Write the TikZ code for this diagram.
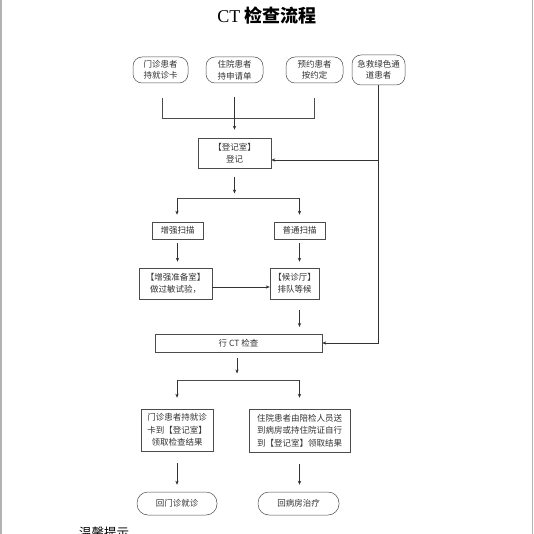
\documentclass[tikz,border=0pt]{standalone}
\usepackage{fontspec}
\setmainfont{Liberation Serif}
\newfontfamily\cjk{Noto Sans CJK SC}
\usetikzlibrary{arrows.meta}
\begin{document}
\begin{tikzpicture}[x=1pt,y=-1pt,
  box/.style={draw=black!70, line width=0.5pt, inner sep=0pt, align=center,
    font=\cjk\fontsize{8.5}{11.5}\selectfont, text=black!80},
  rbox/.style={box, rounded corners=9pt},
  tbox/.style={box, font=\cjk\fontsize{8.5}{12.5}\selectfont},
  arr/.style={-{Stealth[length=4pt,width=3.2pt]}, line width=0.5pt, draw=black!80},
  ln/.style={line width=0.5pt, draw=black!70}]
\useasboundingbox (0,0) rectangle (534,534);
\fill[white] (0,0) rectangle (534,534);
\draw[black!30, line width=1.2pt] (1,0) -- (1,534);
\draw[black!30, line width=1.2pt] (532.5,0) -- (532.5,534);

% title
\node (title) at (267,16) {\fontsize{18}{18}\selectfont CT {\cjk\bfseries 检查流程}};

% top row
\node[rbox, minimum width=55pt, minimum height=26pt] (mz) at (160.5,70) {门诊患者\\持就诊卡};
\node[rbox, minimum width=57pt, minimum height=26pt] (zy) at (234.5,70) {住院患者\\持申请单};
\node[rbox, minimum width=57pt, minimum height=26pt] (yy) at (314.5,70) {预约患者\\按约定};
\node[rbox, minimum width=53pt, minimum height=30pt] (jj) at (378.5,70) {急救绿色通\\道患者};

% registration
\node[box, minimum width=73pt, minimum height=30pt] (dj) at (234.5,153) {【登记室】\\登记};

% scans
\node[box, minimum width=51pt, minimum height=17pt] (zq) at (177.5,230.5) {增强扫描};
\node[box, minimum width=51pt, minimum height=17pt] (pt) at (299.5,230.5) {普通扫描};
\node[box, minimum width=73pt, minimum height=31pt] (zb) at (175.5,283.5) {【增强准备室】\\做过敏试验，};
\node[box, minimum width=49pt, minimum height=31pt] (hz) at (294.5,283.5) {【候诊厅】\\排队等候};

% CT
\node[box, minimum width=167pt, minimum height=18pt] (ct) at (238.5,343) {行 CT 检查};

% results
\node[tbox, minimum width=72pt, minimum height=42pt] (r1) at (177,430) {门诊患者持就诊\\卡到【登记室】\\领取检查结果};
\node[tbox, minimum width=101pt, minimum height=43pt] (r2) at (299.5,430.5) {住院患者由陪检人员送\\到病房或持住院证自行\\到【登记室】领取结果};

% ends
\node[box, rounded corners=11pt, minimum width=80pt, minimum height=23pt] (e1) at (177,503.5) {回门诊就诊};
\node[box, rounded corners=11pt, minimum width=81pt, minimum height=23pt] (e2) at (298.5,503.5) {回病房治疗};

% bottom partial text (cut off by the page edge, as in the reference)
\node[anchor=north west, inner sep=0pt, font=\cjk\fontsize{12.5}{12.5}\selectfont] (tip) at (79,526.5) {温馨提示};

% connectors: top
\coordinate (a1) at (162,98);
\coordinate (a1b) at (162,118);
\coordinate (a3) at (314,98);
\coordinate (a3b) at (314,118);
\draw[ln] (a1) -- (a1b) -- (a3b) -- (a3);
\draw[arr, shorten <=14pt, shorten >=8pt] (zy) -- (dj);

% emergency line
\draw[arr] (jj.south) |- (ct.east);
\coordinate (jb) at (378.5,160);
\draw[arr] (jb) -- (jb -| dj.east);

% registration to split
\coordinate (s1) at (234.5,177);
\coordinate (s2) at (234.5,193.5);
\draw[arr] (s1) -- (s2);
\coordinate (hL) at (177,198);
\coordinate (hR) at (299.5,198);
\draw[ln] (hL) -- (hR);
\draw[arr, shorten >=7pt] (hL) -- (hL |- zq.north);
\draw[arr, shorten >=7pt] (hR) -- (hR |- pt.north);

% scans to rooms
\draw[arr, shorten <=4pt, shorten >=6pt] (zq.south) -- (zq.south |- zb.north);
\draw[arr, shorten <=4pt, shorten >=6pt] (pt.south) -- (pt.south |- hz.north);
\coordinate (zbh) at (212,287);
\draw[arr] (zbh) -- (zbh -| hz.west);

% waiting to CT
\coordinate (w1) at (299.5,310);
\coordinate (w2) at (299.5,327);
\draw[arr] (w1) -- (w2);

% CT to split
\coordinate (c1) at (237,358);
\coordinate (c2) at (237,373.5);
\draw[arr] (c1) -- (c2);
\coordinate (gL) at (177,380);
\coordinate (gR) at (299.5,380);
\draw[ln] (gL) -- (gR);
\draw[arr, shorten >=11pt] (gL) -- (gL |- r1.north);
\draw[arr, shorten >=11pt] (gR) -- (gR |- r2.north);

% results to ends
\draw[arr, shorten <=12pt, shorten >=7pt] (r1.south) -- (r1.south |- e1.north);
\draw[arr, shorten <=11.5pt, shorten >=7pt] (r2.south) -- (r2.south |- e2.north);
\end{tikzpicture}
\end{document}
